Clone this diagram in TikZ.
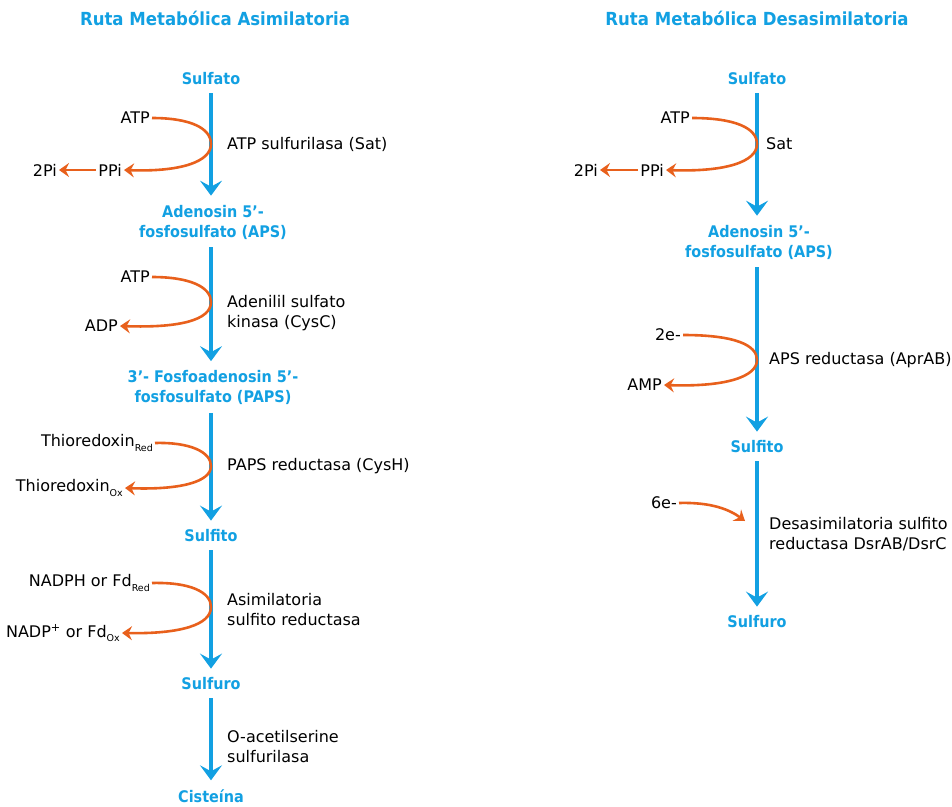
\documentclass[tikz,border=0pt]{standalone}
\usepackage{fontspec}
\setmainfont{DejaVu Sans}
\newfontfamily\metabfont{DejaVu Sans}[FakeStretch=0.9]
\newfontfamily\titulofont{DejaVu Sans}[FakeStretch=0.92]
\usetikzlibrary{arrows.meta,positioning}
\definecolor{rutablue}{RGB}{18,160,226}
\definecolor{rutaorange}{RGB}{232,96,28}
\newcommand{\sbs}[1]{\raisebox{-4.5pt}{\fontsize{9.5}{9.5}\selectfont #1}}

\begin{document}
\begin{tikzpicture}[x=1pt,y=-1pt,
		titulo/.style={font=\titulofont\fontsize{18}{20}\selectfont\bfseries, text=rutablue},
		metab/.style={font=\metabfont\fontsize{16}{20}\selectfont\bfseries, text=rutablue, align=center, inner sep=2pt},
		enzima/.style={font=\fontsize{16}{20}\selectfont, anchor=west, align=left, inner sep=0pt},
		cofac/.style={font=\fontsize{16}{20}\selectfont, anchor=east, inner sep=2pt},
		paso/.style={rutablue, line width=4pt, -{Stealth[length=15pt,width=22pt,inset=6pt]}, shorten <=6pt, shorten >=7pt},
		curva/.style={rutaorange, line width=2.6pt, -{Stealth[length=10pt,width=14pt,inset=3.5pt]}}]
			\useasboundingbox (0,0) rectangle (952,806);
			
			% Ruta asimilatoria
			\begin{scope}
				\node[titulo] (tituloA) at (215,18) {Ruta Metabólica Asimilatoria};
				
				\node[metab] (sulfatoA) at (211,79) {Sulfato};
				\node[metab] (apsA) at (213,222) {Adenosin 5’-\\fosfosulfato (APS)};
				\node[metab] (papsA) at (213,387.5) {3’- Fosfoadenosin 5’-\\fosfosulfato (PAPS)};
				\node[metab] (sulfitoA) at (211,536) {Sulfito};
				\node[metab] (sulfuroA) at (211,684) {Sulfuro};
				\node[metab] (cisteinaA) at (211,796) {Cisteína};
				
				% Pasos
				\draw[paso] (sulfatoA.south) -- (sulfatoA.south |- apsA.north);
				\draw[paso] (sulfatoA.south |- apsA.south) -- (sulfatoA.south |- papsA.north);
				\draw[paso] (sulfatoA.south |- papsA.south) -- (sulfitoA.north);
				\draw[paso] (sulfitoA.south) -- (sulfuroA.north);
				\draw[paso] (sulfuroA.south) -- (cisteinaA.north);
				
				% Enzimas
				\node[enzima] (satA) at (227,144) {ATP sulfurilasa (Sat)};
				\node[enzima] (cyscA) at (227,313) {Adenilil sulfato\\kinasa (CysC)};
				\node[enzima] (cyshA) at (227,466) {PAPS reductasa (CysH)};
				\node[enzima] (sirA) at (227,609.5) {Asimilatoria\\sulfito reductasa};
				\node[enzima] (oasA) at (227,747) {O-acetilserine\\sulfurilasa};
				
				% Cofactores
				\node[cofac] (atpA) at (152,118) {ATP};
				\node[cofac] (ppiA) at (124,170) {PPi};
				\node[cofac] (piA) at (59,170) {2Pi};
				\draw[curva] (atpA.east) .. controls (190,118) and (211,128) .. (211,144) .. controls (211,162) and (180,172) .. (ppiA.east);
				\draw[curva] (ppiA.west) -- (piA.east);
				
				\node[cofac] (atpB) at (152,277) {ATP};
				\node[cofac] (adpA) at (120,326) {ADP};
				\draw[curva] (atpB.east) .. controls (190,277) and (211,287) .. (211,302) .. controls (211,320) and (180,328) .. (adpA.east);
				
				\node[cofac] (thioRed) at (155,443) {Thioredoxin\sbs{Red}};
				\node[cofac] (thioOx) at (125,488) {Thioredoxin\sbs{Ox}};
				\draw[curva] (thioRed.east) .. controls (190,442) and (211,452) .. (211,466) .. controls (211,482) and (180,490) .. (thioOx.east);
				
				\node[cofac] (nadphA) at (152,583) {NADPH or Fd\sbs{Red}};
				\node[cofac] (nadpA) at (122,633) {NADP\textsuperscript{+} or Fd\sbs{Ox}};
				\draw[curva] (nadphA.east) .. controls (190,582) and (211,592) .. (211,607) .. controls (211,625) and (180,634) .. (nadpA.east);
			\end{scope}
			
			% Ruta desasimilatoria
			\begin{scope}
				\node[titulo] (tituloB) at (757,18) {Ruta Metabólica Desasimilatoria};
				
				\node[metab] (sulfatoB) at (757,79) {Sulfato};
				\node[metab] (apsB) at (759,242) {Adenosin 5’-\\fosfosulfato (APS)};
				\node[metab] (sulfitoB) at (757,447) {Sulfito};
				\node[metab] (sulfuroB) at (757,622) {Sulfuro};
				
				\draw[paso] (sulfatoB.south) -- (sulfatoB.south |- apsB.north);
				\draw[paso] (sulfatoB.south |- apsB.south) -- (sulfitoB.north);
				\draw[paso] (sulfitoB.south) -- (sulfuroB.north);
				
				\node[enzima] (satB) at (766,144) {Sat};
				\node[enzima] (aprB) at (769,360) {APS reductasa (AprAB)};
				\node[enzima] (dsrB) at (769,534) {Desasimilatoria sulfito\\reductasa DsrAB/DsrC};
				
				\node[cofac] (atpC) at (692,118) {ATP};
				\node[cofac] (ppiB) at (666,170) {PPi};
				\node[cofac] (piB) at (600,170) {2Pi};
				\draw[curva] (atpC.east) .. controls (735,118) and (757,128) .. (757,144) .. controls (757,162) and (725,172) .. (ppiB.east);
				\draw[curva] (ppiB.west) -- (piB.east);
				
				\node[cofac] (dosE) at (683,335) {2e-};
				\node[cofac] (ampB) at (664,385) {AMP};
				\draw[curva] (dosE.east) .. controls (735,335) and (757,345) .. (757,360) .. controls (757,377) and (725,387) .. (ampB.east);
				
				\node[cofac] (seisE) at (679,503) {6e-};
				\coordinate (dsrIn) at (745,521);
				\draw[curva] (seisE.east) .. controls (712,502) and (730,510) .. (dsrIn);
			\end{scope}
		\end{tikzpicture}
\end{document}
